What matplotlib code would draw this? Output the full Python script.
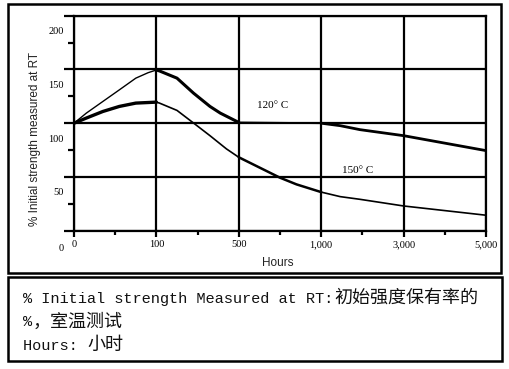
import numpy as np
import matplotlib
matplotlib.use("Agg")
import matplotlib.pyplot as plt
import matplotlib.transforms as mtransforms
from matplotlib.patches import Rectangle

# ---- data ----
hour_ticks = [0, 100, 500, 1000, 3000, 5000]
hour_tick_labels = ['0', '100', '500', '1,000', '3,000', '5,000']
hour_minor = [50, 300, 750, 2000, 4000]
y_ticks = [0, 50, 100, 150, 200]
y_tick_labels = ['0', '50', '100', '150', '200']
y_minor = [25, 75, 125, 175]

h120 = [0, 15, 35, 55, 75, 90, 100, 115, 200, 280, 360, 410, 500, 1000, 1460, 1940, 3000, 5000]
v120 = [100, 109.4, 120.2, 131.0, 141.9, 147.0, 149.5, 148.6, 141.9, 128.0, 115.6, 109.4, 100.7,
        100, 97.7, 94.0, 88.4, 74.5]

h150 = [0, 15, 35, 55, 75, 100, 115, 200, 280, 360, 440, 500, 650, 750, 850, 1000, 1460, 1940, 3000, 5000]
v150 = [100, 104.8, 110.9, 115.6, 118.7, 119.6, 118.7, 111.9, 100.2, 88.4, 76.1, 68.3, 56.9, 49.3,
        43.1, 35.9, 31.7, 29.2, 23.0, 14.4]

label120 = '120° C'
label150 = '150° C'
xlabel = 'Hours'
ylabel = '% Initial strength measured at RT'
note_lines = [('% Initial strength Measured at RT:', '初始强度保有率的'),
              ('%', '，室温测试'),
              ('Hours: ', '小时')]

# ---- figure ----
W, H = 509, 369
fig = plt.figure(figsize=(W / 100, H / 100), dpi=100)
ax = fig.add_axes([74 / W, 1 - 230.7 / H, (486 - 74) / W, (230.7 - 15.7) / H])

pos = np.arange(len(hour_ticks), dtype=float)
def fwd(x):
    return np.interp(x, hour_ticks, pos)
def inv(p):
    return np.interp(p, pos, hour_ticks)
ax.set_xscale('function', functions=(fwd, inv))
ax.set_xlim(0, 5000)
ax.set_ylim(0, 200)

LW = 1.6
for s in ax.spines.values():
    s.set_linewidth(LW)

ax.set_xticks(hour_ticks)
ax.set_xticklabels(hour_tick_labels, fontfamily='Liberation Serif', fontsize=7.5)
ax.set_xticks(hour_minor, minor=True)
ax.set_yticks(y_ticks)
ax.set_yticklabels(y_tick_labels, fontfamily='Liberation Serif', fontsize=7.5)
ax.set_yticks(y_minor, minor=True)
ax.tick_params(axis='x', which='major', direction='out', length=4, width=LW, pad=3)
ax.tick_params(axis='x', which='minor', direction='out', length=3, width=LW)
ax.tick_params(axis='y', which='major', direction='out', length=7, width=LW, pad=0.5)
ax.tick_params(axis='y', which='minor', direction='out', length=4, width=LW)
ax.grid(True, which='major', color='black', linewidth=LW)
ax.set_axisbelow(True)

# offset y tick labels downward as in reference
for lab in ax.yaxis.get_majorticklabels():
    dy = -0.17 if lab.get_text() == '0' else -0.15
    off = mtransforms.ScaledTranslation(0, dy, fig.dpi_scale_trans)
    lab.set_transform(lab.get_transform() + off)

def draw_segments(h, v, segs):
    h = np.asarray(h, float)
    v = np.asarray(v, float)
    for a, b, lw in segs:
        m = (h >= a) & (h <= b)
        ax.plot(h[m], v[m], color='black', linewidth=lw, solid_capstyle='round',
                solid_joinstyle='round', zorder=3)

draw_segments(h120, v120, [(0, 100, 1.0), (100, 500, 2.2), (500, 1000, 1.3), (1000, 5000, 2.0)])
draw_segments(h150, v150, [(0, 100, 2.4), (100, 500, 1.2), (500, 1000, 1.8), (1000, 5000, 1.2)])

ax.text(608, 116.2, label120, fontfamily='Liberation Serif', fontsize=8, ha='left', va='center')
ax.text(1500, 55.6, label150, fontfamily='Liberation Serif', fontsize=8, ha='left', va='center')

fig.text(277.5 / W, 1 - 263 / H, xlabel, fontfamily='Liberation Sans', fontsize=8.5,
         ha='center', va='center', color='#222222')
fig.text(35 / W, 1 - 139.5 / H, ylabel, fontfamily='Liberation Sans', fontsize=8.5,
         rotation=90, ha='center', va='center', color='#222222')

# outer boxes
fig.patches.append(Rectangle((8 / W, 1 - 272.5 / H), (501 - 8) / W, (272.5 - 3.5) / H,
                             transform=fig.transFigure, fill=False, lw=1.8, ec='black'))
fig.patches.append(Rectangle((8 / W, 1 - 360.5 / H), (501.5 - 8) / W, (360.5 - 277) / H,
                             transform=fig.transFigure, fill=False, lw=1.8, ec='black'))

# note text
mono_size = 11
char_px = 0.6 * mono_size * 100 / 72
baselines = [303, 326.5, 350]
for (lat, cjk), yb in zip(note_lines, baselines):
    x0 = 23
    fig.text(x0 / W, 1 - yb / H, lat, fontfamily='Liberation Mono', fontsize=mono_size,
             ha='left', va='baseline', color='#111111')
    fig.text((x0 + len(lat) * char_px) / W, 1 - yb / H, cjk,
             fontfamily=['Noto Sans CJK SC', 'DejaVu Sans'], fontsize=13,
             ha='left', va='baseline', color='#111111')

fig.savefig('out.png', dpi=100)
